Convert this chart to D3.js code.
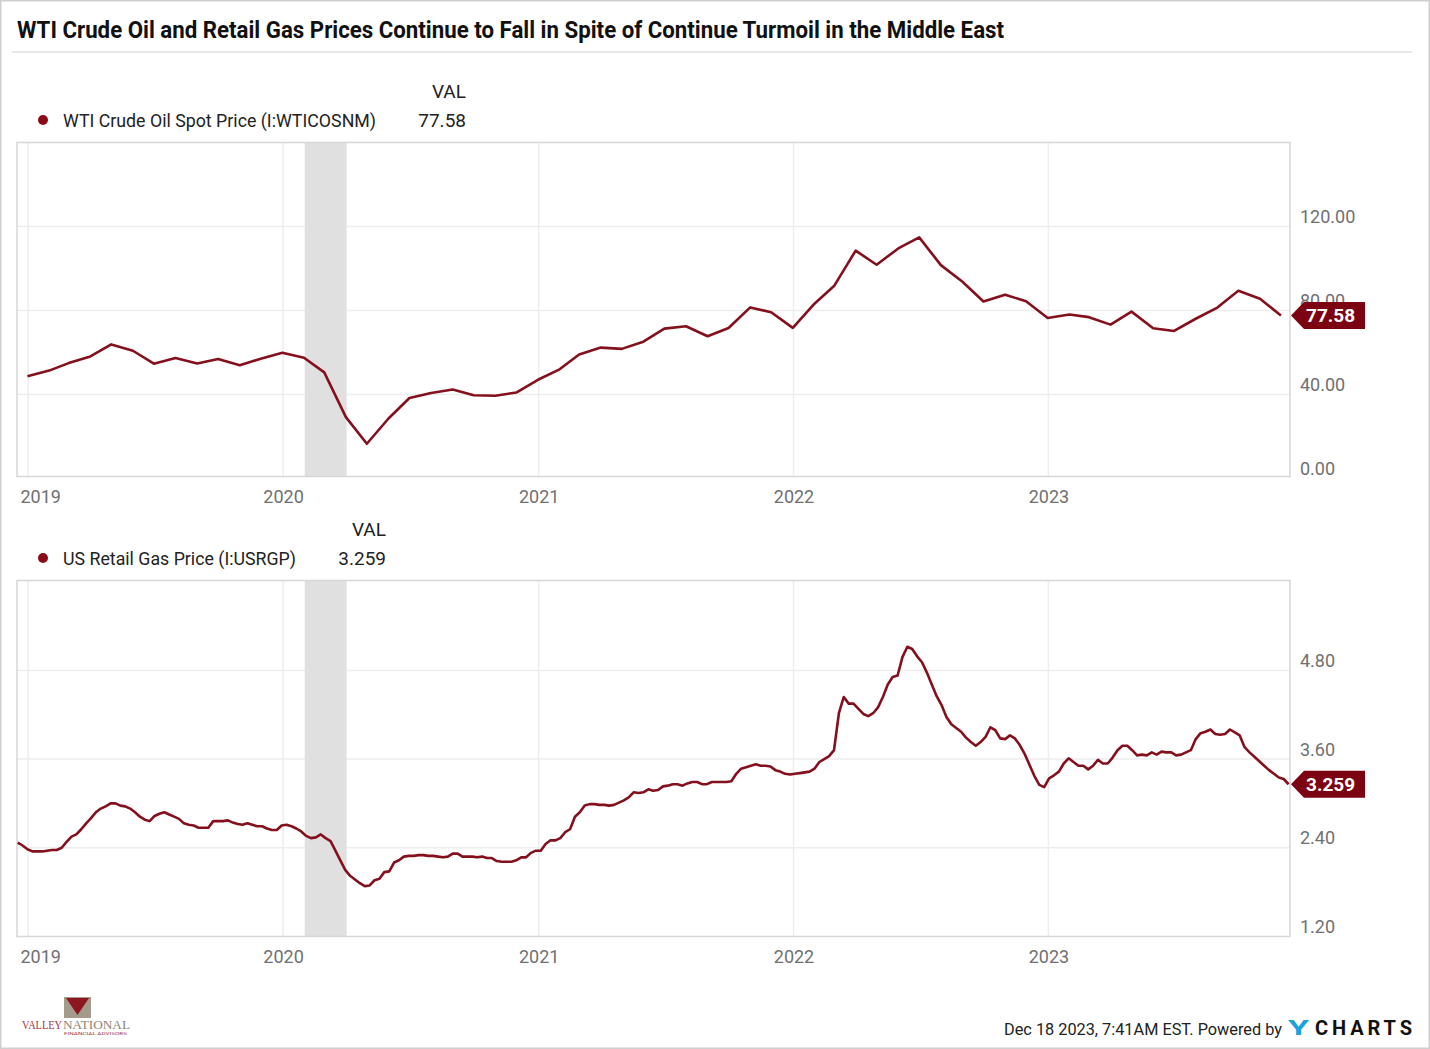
<!DOCTYPE html>
<meta charset="utf-8">
<style>
body { margin: 0; background: #fff; }
text { font-family: Roboto, "Open Sans", sans-serif; }
.grid line { stroke: #ededed; stroke-width: 1.5px; }
.frame { fill: none; stroke: #d6d6d6; stroke-width: 1.5px; }
.tick-label { font-size: 18px; fill: #707070; }
.legend { font-size: 19px; fill: #222; }
.series { fill: none; stroke: #83101c; stroke-width: 2.6px; stroke-linejoin: round; }
</style>
<body>
<script src="https://d3js.org/d3.v7.min.js"></script>
<script>

// WTI crude oil spot price, monthly averages, Dec 2018 .. Nov 2023 (plotted at month end)
var oilFirstMonth = new Date(2018, 11, 1);
var oilValues = [
  48.7,
  51.38, 54.95, 58.15, 63.86, 60.83, 54.66, 57.35, 54.81, 56.95, 53.96, 57.03, 59.88,
  57.52, 50.54, 29.21, 16.55, 28.56, 38.31, 40.71, 42.34, 39.63, 39.40, 40.94, 47.02,
  52.00, 59.04, 62.33, 61.72, 65.17, 71.38, 72.49, 67.73, 71.65, 81.48, 79.15, 71.71,
  83.22, 91.64, 108.50, 101.78, 109.55, 114.84, 101.62, 93.67, 84.26, 87.55, 84.37, 76.44,
  78.12, 76.83, 73.28, 79.45, 71.58, 70.25, 76.07, 81.39, 89.43, 85.64, 77.58
];

// US retail gas price, weekly, from Dec 17 2018 to Dec 11 2023
var gasFirstWeek = new Date(2018, 11, 17);
var gasValues = [
  2.47, 2.43, 2.38,
  // 2019
  2.35, 2.35, 2.35, 2.36, 2.37, 2.37, 2.40, 2.48, 2.55, 2.58, 2.65, 2.73, 2.80,
  2.88, 2.93, 2.96, 3.00, 3.00, 2.97, 2.96, 2.93, 2.88, 2.82, 2.78, 2.76, 2.83,
  2.86, 2.88, 2.85, 2.82, 2.79, 2.73, 2.71, 2.70, 2.67, 2.67, 2.67, 2.76, 2.76,
  2.76, 2.77, 2.74, 2.72, 2.71, 2.73, 2.71, 2.69, 2.69, 2.66, 2.64, 2.64, 2.70,
  // 2020
  2.71, 2.69, 2.66, 2.62, 2.56, 2.53, 2.54, 2.58, 2.53, 2.49, 2.36, 2.23, 2.10,
  2.02, 1.97, 1.92, 1.88, 1.89, 1.96, 1.98, 2.07, 2.08, 2.20, 2.23, 2.28, 2.29,
  2.29, 2.30, 2.30, 2.29, 2.29, 2.28, 2.27, 2.28, 2.32, 2.32, 2.28, 2.28, 2.28,
  2.27, 2.28, 2.26, 2.26, 2.22, 2.21, 2.21, 2.21, 2.23, 2.27, 2.27, 2.33, 2.36,
  // 2021
  2.36, 2.45, 2.50, 2.50, 2.53, 2.61, 2.65, 2.82, 2.88, 2.97, 2.99, 2.99, 2.98,
  2.98, 2.97, 2.98, 3.01, 3.04, 3.08, 3.15, 3.14, 3.15, 3.19, 3.17, 3.18, 3.23,
  3.24, 3.26, 3.26, 3.24, 3.27, 3.29, 3.29, 3.26, 3.26, 3.29, 3.29, 3.29, 3.29,
  3.30, 3.40, 3.47, 3.49, 3.51, 3.53, 3.51, 3.51, 3.50, 3.45, 3.43, 3.40, 3.39,
  // 2022
  3.40, 3.41, 3.42, 3.43, 3.47, 3.56, 3.60, 3.64, 3.72, 4.22, 4.44, 4.35, 4.35,
  4.28, 4.21, 4.18, 4.22, 4.30, 4.44, 4.61, 4.71, 4.73, 4.98, 5.12, 5.09, 4.99,
  4.91, 4.77, 4.61, 4.45, 4.33, 4.17, 4.07, 4.02, 3.97, 3.89, 3.83, 3.78, 3.83,
  3.90, 4.03, 3.99, 3.88, 3.87, 3.92, 3.88, 3.79, 3.67, 3.52, 3.37, 3.25, 3.22,
  // 2023
  3.34, 3.38, 3.43, 3.54, 3.61, 3.56, 3.51, 3.51, 3.46, 3.51, 3.59, 3.54, 3.54,
  3.62, 3.72, 3.78, 3.78, 3.72, 3.65, 3.66, 3.65, 3.69, 3.66, 3.70, 3.69, 3.69,
  3.65, 3.66, 3.69, 3.72, 3.87, 3.95, 3.97, 4.00, 3.94, 3.93, 3.94, 4.00, 3.96,
  3.92, 3.76, 3.69, 3.63, 3.57, 3.51, 3.45, 3.40, 3.35, 3.33, 3.259
];

var yearTicks = [new Date(2019, 0, 1), new Date(2020, 0, 1), new Date(2021, 0, 1),
                 new Date(2022, 0, 1), new Date(2023, 0, 1)];
var recession = [new Date(2020, 1, 1), new Date(2020, 3, 1)];
var oilTicks = [0, 40, 80, 120];
var gasTicks = [1.2, 2.4, 3.6, 4.8];

// turn the arrays into dated points
var oilData = oilValues.map(function(v, i) {
  return { date: d3.timeDay.offset(d3.timeMonth.offset(oilFirstMonth, i + 1), -1), value: v };
});
var gasData = gasValues.map(function(v, i) {
  return { date: d3.timeDay.offset(gasFirstWeek, 7 * i), value: v };
});

var W = 1430, H = 1049;
var plotLeft = 17, plotRight = 1290;

var svg = d3.select("body").append("svg")
  .attr("width", W)
  .attr("height", H);

svg.append("rect")
  .attr("x", 0.75).attr("y", 0.75)
  .attr("width", W - 1.5).attr("height", H - 1.5)
  .attr("fill", "#fff").attr("stroke", "#cfcfcf").attr("stroke-width", 1.5);

// title
svg.append("text")
  .attr("x", 17).attr("y", 38)
  .attr("textLength", 987).attr("lengthAdjust", "spacingAndGlyphs")
  .style("font-size", "24px").style("font-weight", "bold").style("fill", "#111")
  .text("WTI Crude Oil and Retail Gas Prices Continue to Fall in Spite of Continue Turmoil in the Middle East");

svg.append("line")
  .attr("x1", 12).attr("x2", 1412).attr("y1", 52).attr("y2", 52)
  .attr("stroke", "#e8e8e8").attr("stroke-width", 2);

var x = d3.scaleTime()
  .domain([new Date(2018, 11, 16), new Date(2023, 11, 13)])
  .range([plotLeft, plotRight]);

var panels = [
  { top: 142.5, bottom: 476.5, y0: 478.5, y1: 142.5, domain: [0, 160], ticks: oilTicks,
    fmt: d3.format(".2f"), data: oilData, name: "WTI Crude Oil Spot Price (I:WTICOSNM)",
    nameWidth: 313, valRight: 466, last: "77.58" },
  { top: 580.5, bottom: 936.5, y0: 936.4, y1: 581.7, domain: [1.2, 6.0], ticks: gasTicks,
    fmt: d3.format(".2f"), data: gasData, name: "US Retail Gas Price (I:USRGP)",
    nameWidth: 233, valRight: 386, last: "3.259" }
];

panels.forEach(function(p) {
  var y = d3.scaleLinear().domain(p.domain).range([p.y0, p.y1]);
  var g = svg.append("g");

  // legend
  g.append("text").attr("class", "legend")
    .attr("x", p.valRight).attr("y", p.top - 45)
    .attr("text-anchor", "end").text("VAL");
  g.append("circle")
    .attr("cx", 43).attr("cy", p.top - 22.5).attr("r", 5)
    .attr("fill", "#8b0a1a");
  g.append("text").attr("class", "legend")
    .attr("x", 63).attr("y", p.top - 16)
    .attr("textLength", p.nameWidth).attr("lengthAdjust", "spacingAndGlyphs")
    .text(p.name);
  g.append("text").attr("class", "legend")
    .attr("x", p.valRight).attr("y", p.top - 16)
    .attr("text-anchor", "end").text(p.last);

  // plot background
  g.append("rect")
    .attr("x", plotLeft).attr("y", p.top)
    .attr("width", plotRight - plotLeft).attr("height", p.bottom - p.top)
    .attr("fill", "#fff");

  // grid
  var grid = g.append("g").attr("class", "grid");
  grid.selectAll(".h").data(p.ticks.filter(function(t) { return y(t) < p.bottom - 1; }))
    .enter().append("line")
      .attr("x1", plotLeft).attr("x2", plotRight)
      .attr("y1", function(d) { return y(d); }).attr("y2", function(d) { return y(d); });
  grid.selectAll(".v").data(yearTicks)
    .enter().append("line")
      .attr("x1", function(d) { return x(d); }).attr("x2", function(d) { return x(d); })
      .attr("y1", p.top).attr("y2", p.bottom);

  // recession band
  g.append("rect")
    .attr("x", x(recession[0])).attr("y", p.top)
    .attr("width", x(recession[1]) - x(recession[0])).attr("height", p.bottom - p.top)
    .attr("fill", "#e0e0e0");

  g.append("rect").attr("class", "frame")
    .attr("x", plotLeft).attr("y", p.top)
    .attr("width", plotRight - plotLeft).attr("height", p.bottom - p.top);

  // line
  var line = d3.line()
    .x(function(d) { return x(d.date); })
    .y(function(d) { return y(d.value); });
  g.append("path").datum(p.data)
    .attr("class", "series")
    .attr("d", line);

  // y axis labels on the right
  var yAxis = g.append("g")
    .attr("transform", "translate(" + (plotRight + 10) + ",0)")
    .call(d3.axisRight(y).tickValues(p.ticks).tickFormat(p.fmt).tickSize(0).tickPadding(0));
  yAxis.select(".domain").remove();
  yAxis.selectAll("text")
    .attr("class", "tick-label")
    .attr("dy", "-0.22em")
    .style("font-family", "Roboto, sans-serif");

  // x axis labels
  var xAxis = g.append("g")
    .attr("transform", "translate(0," + p.bottom + ")")
    .call(d3.axisBottom(x).tickValues(yearTicks).tickFormat(d3.timeFormat("%Y")).tickSize(0).tickPadding(0));
  xAxis.select(".domain").remove();
  xAxis.selectAll("text")
    .attr("class", "tick-label")
    .attr("y", 26).attr("dy", 0)
    .style("font-family", "Roboto, sans-serif")
    .attr("x", function(d) {
      // keep the first label inside the plot
      var w = this.getComputedTextLength();
      var cx = x(d);
      return Math.max(cx, plotLeft + 3 + w / 2) - cx;
    });

  // last value badge
  var last = p.data[p.data.length - 1];
  var vy = y(last.value);
  var bx = plotRight + 1;
  g.append("path")
    .attr("d", "M" + bx + "," + vy +
      "L" + (bx + 13) + "," + (vy - 13.5) +
      "L1365," + (vy - 13.5) +
      "L1365," + (vy + 13.5) +
      "L" + (bx + 13) + "," + (vy + 13.5) + "Z")
    .attr("fill", "#7c0311");
  g.append("text")
    .attr("x", 1306).attr("y", vy + 6.5)
    .style("font-size", "19px").style("font-weight", "bold").style("fill", "#fff")
    .text(p.last);
});

// footer
svg.append("text")
  .attr("x", 1004).attr("y", 1035)
  .attr("textLength", 278).attr("lengthAdjust", "spacingAndGlyphs")
  .style("font-size", "17px").style("fill", "#222")
  .text("Dec 18 2023, 7:41AM EST. Powered by");
svg.append("text")
  .attr("x", 1288).attr("y", 1035)
  .attr("textLength", 21).attr("lengthAdjust", "spacingAndGlyphs")
  .style("font-size", "20px").style("font-weight", "bold").style("fill", "#1ba2de")
  .text("Y");
svg.append("text")
  .attr("x", 1315).attr("y", 1035)
  .attr("textLength", 97).attr("lengthAdjust", "spacing")
  .style("font-size", "20px").style("font-weight", "bold").style("fill", "#111")
  .text("CHARTS");

// Valley National logo
var logo = svg.append("g");
logo.append("rect")
  .attr("x", 64).attr("y", 997).attr("width", 27).attr("height", 21)
  .attr("fill", "#a49b8d");
logo.append("path")
  .attr("d", "M66,998L89,998L77.5,1015Z")
  .attr("fill", "#8e1620");
logo.append("text")
  .attr("x", 22).attr("y", 1029)
  .attr("textLength", 40).attr("lengthAdjust", "spacingAndGlyphs")
  .style("font-family", "'Liberation Serif', serif").style("font-size", "12px").style("fill", "#a3343c")
  .text("VALLEY");
logo.append("text")
  .attr("x", 63).attr("y", 1029)
  .attr("textLength", 67).attr("lengthAdjust", "spacingAndGlyphs")
  .style("font-family", "'Liberation Serif', serif").style("font-size", "12px").style("fill", "#8c8579")
  .text("NATIONAL");
logo.append("text")
  .attr("x", 64).attr("y", 1034.5)
  .attr("textLength", 63).attr("lengthAdjust", "spacingAndGlyphs")
  .style("font-size", "3.5px").style("fill", "#a3343c")
  .text("FINANCIAL ADVISORS");

</script>
</body>
